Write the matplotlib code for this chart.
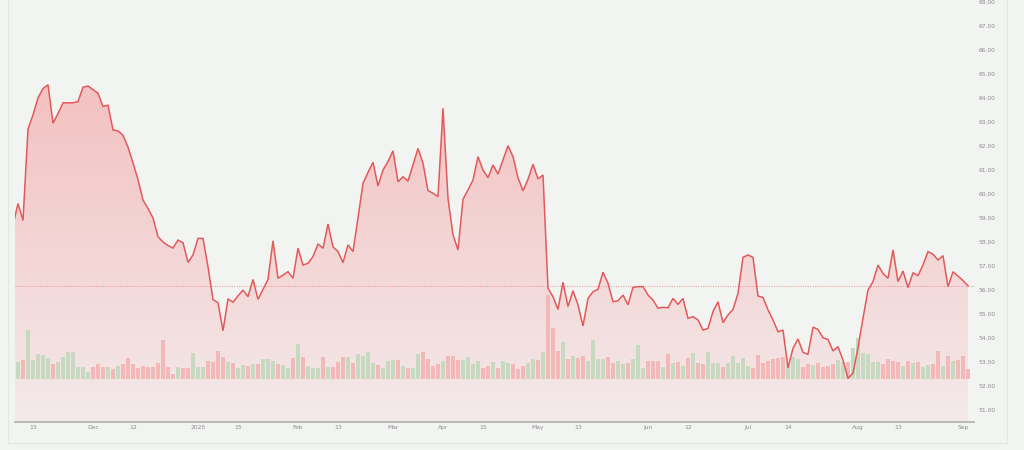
import numpy as np
import matplotlib
matplotlib.use("Agg")
import matplotlib.pyplot as plt
from matplotlib.colors import to_rgb
from matplotlib.patches import Rectangle

# daily closes (trading-day index)
prices = [
    58.7, 59.6, 58.9, 62.7, 63.3, 64.0, 64.4, 64.55, 62.95, 63.35,
    63.8, 63.8, 63.8, 63.85, 64.45, 64.5, 64.35, 64.2, 63.65, 63.7,
    62.67, 62.63, 62.45, 61.95, 61.3, 60.6, 59.75, 59.4, 59.0, 58.22,
    58.0, 57.85, 57.75, 58.08, 57.97, 57.15, 57.46, 58.15, 58.15, 56.97,
    55.6, 55.47, 54.3, 55.63, 55.49, 55.75, 56.0, 55.72, 56.44, 55.61,
    56.03, 56.44, 58.05, 56.49, 56.62, 56.76, 56.49, 57.74, 57.04, 57.11,
    57.39, 57.92, 57.74, 58.75, 57.8, 57.6, 57.14, 57.88, 57.6, 59.0,
    60.44, 60.9, 61.32, 60.33, 61.0, 61.35, 61.8, 60.51, 60.72, 60.54,
    61.21, 61.9, 61.28, 60.14, 60.03, 59.89, 63.57, 59.82, 58.3, 57.67,
    59.78, 60.17, 60.58, 61.56, 61.0, 60.68, 61.21, 60.83, 61.42, 62.01,
    61.56, 60.68, 60.13, 60.61, 61.24, 60.63, 60.79, 56.07, 55.72, 55.19,
    56.32, 55.31, 55.97, 55.38, 54.5, 55.65, 55.93, 56.03, 56.74, 56.28,
    55.51, 55.55, 55.79, 55.38, 56.11, 56.14, 56.14, 55.79, 55.58, 55.24,
    55.28, 55.26, 55.65, 55.4, 55.65, 54.82, 54.89, 54.75, 54.33, 54.4,
    55.1, 55.51, 54.64, 54.96, 55.19, 55.86, 57.36, 57.46, 57.36, 55.75,
    55.69, 55.17, 54.75, 54.26, 54.33, 52.76, 53.57, 53.96, 53.4, 53.32,
    54.45, 54.36, 54.01, 53.94, 53.46, 53.64, 53.08, 52.32, 52.53, 53.6,
    54.82, 56.0, 56.35, 57.04, 56.69, 56.49, 57.67, 56.35, 56.79, 56.1,
    56.72, 56.6, 57.04, 57.6, 57.49, 57.25, 57.43, 56.14, 56.76, 56.58,
    56.39, 56.18,
]

# volume (millions) and bar direction (1 = up/green, 0 = down/red)
volumes = [
    1.6, 1.77, 1.93, 4.93, 1.93, 2.53, 2.43, 2.1, 1.5, 1.77,
    2.27, 2.7, 2.7, 1.2, 1.27, 0.77, 1.27, 1.53, 1.27, 1.27,
    1.03, 1.37, 1.53, 2.17, 1.5, 1.17, 1.37, 1.27, 1.27, 1.67,
    3.93, 1.27, 0.5, 1.27, 1.1, 1.1, 2.6, 1.2, 1.2, 1.83,
    1.7, 2.83, 2.27, 1.77, 1.6, 1.17, 1.43, 1.33, 1.53, 1.5,
    2.0, 2.0, 1.87, 1.5, 1.43, 1.1, 2.1, 3.5, 2.2, 1.37,
    1.17, 1.17, 2.2, 1.2, 1.27, 1.7, 2.27, 2.27, 1.67, 2.53,
    2.33, 2.7, 1.67, 1.43, 1.17, 1.87, 1.93, 1.93, 1.37, 1.1,
    1.17, 2.53, 2.7, 2.0, 1.37, 1.53, 1.83, 2.33, 2.33, 1.93,
    1.93, 2.2, 1.53, 1.83, 1.1, 1.37, 1.77, 1.17, 1.83, 1.67,
    1.53, 1.03, 1.37, 1.6, 2.03, 1.93, 2.7, 8.43, 5.17, 2.83,
    3.7, 2.0, 2.33, 2.1, 2.33, 1.87, 3.93, 2.0, 2.0, 2.2,
    1.67, 1.83, 1.53, 1.67, 2.03, 3.43, 1.17, 1.87, 1.87, 1.87,
    1.2, 2.5, 1.6, 1.77, 1.37, 2.1, 2.6, 1.67, 1.53, 2.77,
    1.67, 1.67, 1.27, 1.67, 2.33, 1.67, 2.1, 1.33, 1.1, 2.43,
    1.67, 1.87, 2.0, 2.1, 2.2, 1.6, 2.2, 2.03, 1.27, 1.53,
    1.43, 1.67, 1.27, 1.37, 1.53, 1.93, 1.77, 1.77, 3.1, 4.17,
    2.6, 2.5, 1.77, 1.7, 1.53, 2.0, 1.87, 1.77, 1.37, 1.87,
    1.6, 1.7, 1.27, 1.43, 1.5, 2.83, 1.37, 2.37, 1.87, 1.93,
    2.33, 1.0,
]
up = [
    0, 1, 0, 1, 1, 1, 1, 1, 0, 1,
    1, 1, 1, 1, 1, 1, 0, 0, 0, 1,
    0, 1, 0, 0, 0, 0, 0, 0, 0, 0,
    0, 0, 0, 1, 0, 0, 1, 1, 1, 0,
    0, 0, 0, 1, 0, 1, 1, 0, 1, 0,
    1, 1, 1, 0, 1, 1, 0, 1, 0, 1,
    1, 1, 0, 1, 0, 0, 0, 1, 0, 1,
    1, 1, 1, 0, 1, 1, 1, 0, 1, 0,
    1, 1, 0, 0, 0, 0, 1, 0, 0, 0,
    1, 1, 1, 1, 0, 0, 1, 0, 1, 1,
    0, 0, 0, 1, 1, 0, 1, 0, 0, 0,
    1, 0, 1, 0, 0, 1, 1, 1, 1, 0,
    0, 1, 1, 0, 1, 1, 1, 0, 0, 0,
    1, 0, 1, 0, 1, 0, 1, 0, 0, 1,
    1, 1, 0, 1, 1, 1, 1, 1, 0, 0,
    0, 0, 0, 0, 0, 1, 1, 1, 0, 0,
    1, 0, 0, 0, 0, 1, 1, 0, 1, 1,
    1, 1, 1, 1, 0, 0, 0, 0, 1, 0,
    1, 0, 1, 1, 0, 0, 1, 0, 1, 0,
    0, 0,
]

tick_pos = [4, 16, 24, 37, 45, 57, 65, 76, 86, 94, 105, 113, 127, 135, 147, 155, 169, 177, 190]
tick_lab = ["13", "Dec", "12", "2025", "15", "Feb", "13", "Mar", "Apr", "15",
            "May", "13", "Jun", "12", "Jul", "14", "Aug", "13", "Sep"]
price_ticks = np.arange(51, 69, 1)

bg = "#f2f4f2"
line_c = "#e25a5a"
x = np.arange(len(prices))
ylo, yhi = 50.5, 68.083

fig = plt.figure(figsize=(10.24, 4.5), dpi=100, facecolor=bg)
rect = [15 / 1024, 28 / 450, 959 / 1024, 422 / 450]

# price pane (fill + ticks)
ax = fig.add_axes(rect, facecolor=bg)
ax.set_xlim(0.4, 192.2)
ax.set_ylim(ylo, yhi)

poly = ax.fill_between(x, prices, ylo, facecolor="none", edgecolor="none")
top_c = np.array(to_rgb("#f4c1c1"))
bot_c = np.array(to_rgb("#f3eaea"))
t = np.linspace(0, 1, 256)[:, None]
grad = (bot_c * (1 - t) + top_c * t)[:, None, :]
im = ax.imshow(grad, extent=[0, len(prices), ylo, max(prices)], origin="lower",
               aspect="auto", zorder=1)
im.set_clip_path(poly.get_paths()[0], ax.transData)
ax.axhline(prices[-1], color="#ee8f8f", lw=0.7, ls=(0, (1, 1.5)), zorder=2)

for s in ["top", "left", "right"]:
    ax.spines[s].set_visible(False)
ax.spines["bottom"].set_color("#b4b6b4")
ax.spines["bottom"].set_linewidth(1.3)

ax.yaxis.tick_right()
ax.set_yticks(price_ticks)
ax.set_yticklabels([f"{v:.2f}" for v in price_ticks])
ax.tick_params(axis="y", length=0, pad=3.5, labelsize=4.3, labelcolor="#8c8c8c")
ax.set_xticks(tick_pos)
ax.set_xticklabels(tick_lab)
ax.tick_params(axis="x", length=0, pad=2, labelsize=4.3, labelcolor="#8c8c8c")

# volume pane overlay
axv = fig.add_axes(rect, facecolor="none", sharex=ax)
axv.set_zorder(1)
axv.set_ylim(-4.27, 37.93)
cols = ["#c8d9c2" if u else "#f3b9b9" for u in up]
axv.bar(x, volumes, width=0.92, color=cols, linewidth=0)
axv.axis("off")

# price line on top
axl = fig.add_axes(rect, facecolor="none", sharex=ax, sharey=ax)
axl.set_zorder(2)
axl.plot(x, prices, color=line_c, lw=1.1, solid_joinstyle="miter")
axl.axis("off")
ax.set_xlim(0.4, 192.2)
ax.set_ylim(ylo, yhi)

fig.patches.append(Rectangle((8 / 1024, 7 / 450), 999 / 1024, 1.1, transform=fig.transFigure,
                             fill=False, edgecolor="#e3e6e3", lw=0.8))

fig.savefig("out.png", dpi=100, facecolor=bg)
